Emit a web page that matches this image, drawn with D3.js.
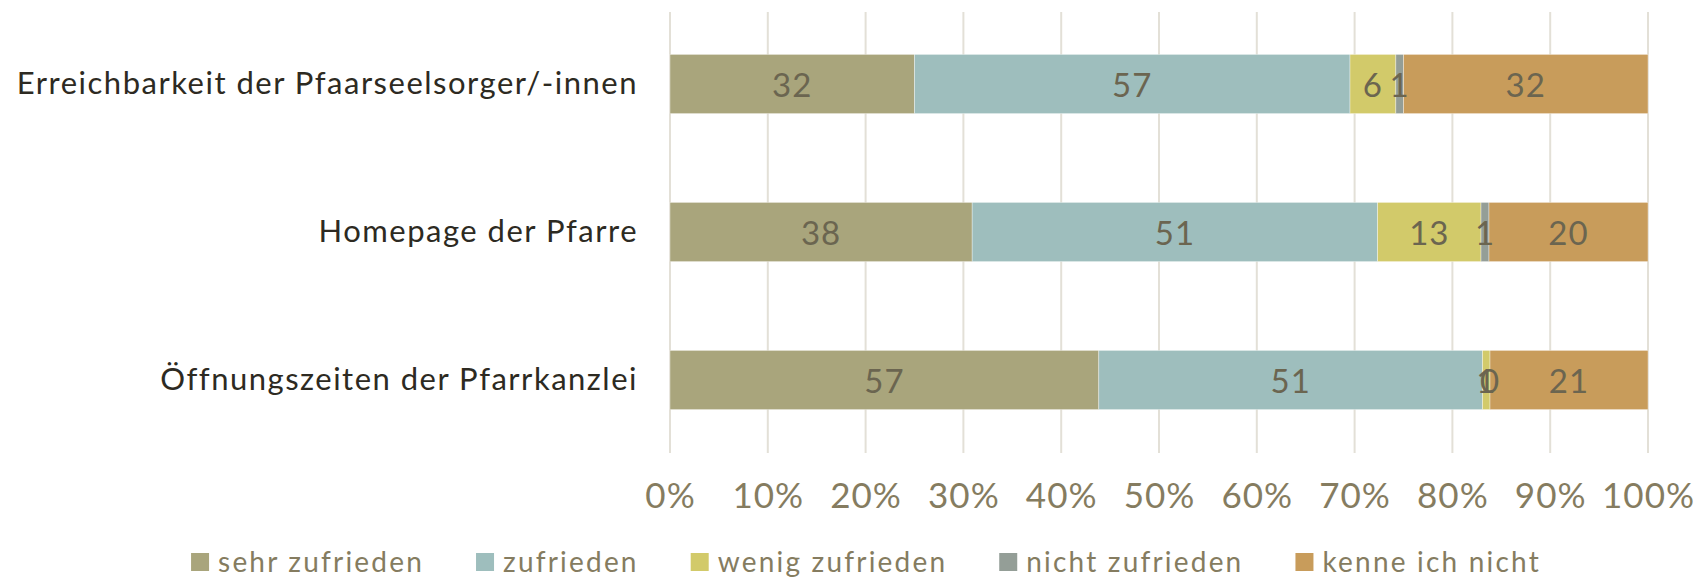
<!DOCTYPE html>
<html>
<head>
<meta charset="utf-8">
<script src="https://cdn.jsdelivr.net/npm/d3@7"></script>
<style>
  html, body { margin: 0; padding: 0; background: #fff; }
  svg { display: block; }
  text { font-family: Lato, "Noto Sans", sans-serif; }
</style>
</head>
<body>
<svg id="chart" width="1708" height="578"></svg>
<script>
const categories = [
  "Erreichbarkeit der Pfaarseelsorger/-innen",
  "Homepage der Pfarre",
  "Öffnungszeiten der Pfarrkanzlei"
];
const seriesNames = ["sehr zufrieden", "zufrieden", "wenig zufrieden", "nicht zufrieden", "kenne ich nicht"];
const sehrZufrieden = [32, 38, 57];
const zufrieden = [57, 51, 51];
const wenigZufrieden = [6, 13, 1];
const nichtZufrieden = [1, 1, 0];
const kenneIchNicht = [32, 20, 21];
const seriesColors = ["#a9a57c", "#9ebebd", "#d2ca6a", "#949e97", "#c89c5b"];
const tickValues = [0, 0.1, 0.2, 0.3, 0.4, 0.5, 0.6, 0.7, 0.8, 0.9, 1.0];
const tickLabels = ["0%", "10%", "20%", "30%", "40%", "50%", "60%", "70%", "80%", "90%", "100%"];

const seriesValues = [sehrZufrieden, zufrieden, wenigZufrieden, nichtZufrieden, kenneIchNicht];
const rows = categories.map((c, i) => {
  const r = { category: c };
  seriesNames.forEach((s, k) => r[s] = seriesValues[k][i]);
  r.total = d3.sum(seriesValues, v => v[i]);
  return r;
});

const svg = d3.select("#chart");
const x = d3.scaleLinear().domain([0, 1]).range([670, 1648]);
const y = d3.scaleBand().domain(categories).range([10, 454]).paddingInner(0.6).paddingOuter(0.3);
const color = d3.scaleOrdinal().domain(seriesNames).range(seriesColors);

// gridlines
svg.append("g").selectAll("line").data(tickValues).join("line")
  .attr("x1", d => x(d)).attr("x2", d => x(d))
  .attr("y1", 12).attr("y2", 453)
  .attr("stroke", "#e3e0d7").attr("stroke-width", 2);

// stacked (normalised)
const stack = d3.stack().keys(seriesNames)
  .value((d, key) => d[key] / d.total);
const layers = stack(rows);

const gLayers = svg.append("g").selectAll("g").data(layers).join("g")
  .attr("fill", d => color(d.key));
gLayers.selectAll("rect").data(d => d).join("rect")
  .attr("x", d => x(d[0]))
  .attr("width", d => x(d[1]) - x(d[0]))
  .attr("y", d => y(d.data.category))
  .attr("height", y.bandwidth())
  .attr("stroke", "#ffffff").attr("stroke-width", 0.6).attr("stroke-opacity", 0.6);

// data labels
const labelG = svg.append("g");
layers.forEach(layer => {
  layer.forEach(d => {
    labelG.append("text")
      .attr("x", x((d[0] + d[1]) / 2))
      .attr("y", y(d.data.category) + y.bandwidth() / 2)
      .attr("text-anchor", "middle")
      .attr("dominant-baseline", "central")
      .attr("font-size", 33)
      .attr("letter-spacing", 1)
      .attr("fill", "#6b6550")
      .text(d.data[layer.key]);
  });
});

// category labels
const axisY = d3.axisLeft(y).tickSize(0).tickPadding(32);
const gy = svg.append("g").attr("transform", `translate(${x(0)},0)`).call(axisY);
gy.select(".domain").remove();
gy.selectAll("text").attr("font-size", 31).attr("fill", "#2d2a22")
  .attr("letter-spacing", 1.5)
  .attr("font-family", "Lato, 'Noto Sans', sans-serif");

// x axis tick labels
const xAxis = d3.axisBottom(x).tickValues(tickValues)
  .tickFormat((d, i) => tickLabels[i]).tickSize(0).tickPadding(0);
const gx = svg.append("g").attr("transform", "translate(0,483)").call(xAxis);
gx.select(".domain").remove();
gx.selectAll("text").attr("font-size", 35).attr("fill", "#857c60")
  .attr("letter-spacing", 1)
  .attr("dy", "0.71em")
  .attr("font-family", "Lato, 'Noto Sans', sans-serif");

// legend
const legend = svg.append("g");
let cx = 0;
seriesNames.forEach((s, i) => {
  const g = legend.append("g");
  g.append("rect").attr("x", 0).attr("y", 553).attr("width", 18).attr("height", 18)
    .attr("fill", color(s));
  const t = g.append("text").attr("x", 27).attr("y", 571.5)
    .attr("font-size", 28).attr("letter-spacing", 2.2).attr("fill", "#857c60").text(s);
  const w = 27 + t.node().getComputedTextLength();
  g.attr("transform", `translate(${cx},0)`);
  cx += w + 52;
});
const totalW = cx - 52;
legend.attr("transform", `translate(${866 - totalW / 2},0)`);
</script>
</body>
</html>
